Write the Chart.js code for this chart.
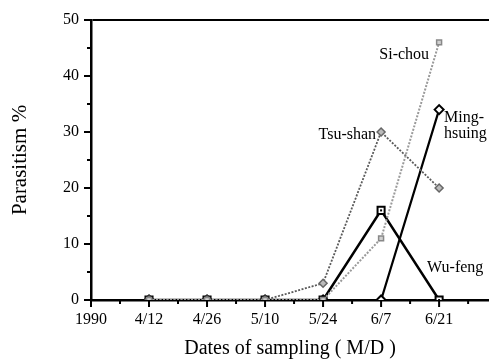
<!DOCTYPE html>
<html>
<head>
<meta charset="utf-8">
<script src="https://cdn.jsdelivr.net/npm/chart.js@4"></script>
<style>
  html, body { margin: 0; padding: 0; background: #fff; }
  #wrap { width: 489px; height: 362px; }
</style>
</head>
<body>
<div id="wrap"><canvas id="chart"></canvas></div>
<script>
  // sampling dates (index 0 is the year label at the origin)
  let dates = ["1990", "4/12", "4/26", "5/10", "5/24", "6/7", "6/21"];
  let tsuShan = [null, 0, 0, 0, 3, 30, 20];
  let siChou = [null, 0, 0, 0, 0, 11, 46];
  let wuFeng = [null, 0, 0, 0, 0, 16, 0];
  let mingHsuing = [null, 0, 0, 0, 0, 0, 34];
  let yTicks = [0, 10, 20, 30, 40, 50];

  function toPoints(values) {
    let pts = [];
    values.forEach((v, i) => {
      if (v !== null) pts.push({ x: i, y: v });
    });
    return pts;
  }

  let serif = "'Liberation Serif', 'DejaVu Serif', serif";

  // hand drawn tick marks, major longer than minor
  let tickMarks = {
    id: "tickMarks",
    afterDraw(chart) {
      let ctx = chart.ctx;
      let xs = chart.scales.x;
      let ys = chart.scales.y;
      let area = chart.chartArea;
      ctx.save();
      ctx.strokeStyle = "#000";
      ctx.lineWidth = 2;
      for (let v = 0; v <= 6.5; v += 0.5) {
        let px = xs.getPixelForValue(v);
        let len = Number.isInteger(v) ? 7 : 4;
        ctx.beginPath();
        ctx.moveTo(px, area.bottom);
        ctx.lineTo(px, area.bottom + len);
        ctx.stroke();
      }
      for (let v = 0; v <= 50; v += 5) {
        let py = ys.getPixelForValue(v);
        let len = v % 10 === 0 ? 7 : 4;
        ctx.beginPath();
        ctx.moveTo(area.left, py);
        ctx.lineTo(area.left - len, py);
        ctx.stroke();
      }
      ctx.restore();
    }
  };

  // series names placed next to their last points, plus the dot in the Wu-feng squares
  let seriesNames = {
    id: "seriesNames",
    afterDatasetsDraw(chart) {
      let ctx = chart.ctx;
      let xs = chart.scales.x;
      let ys = chart.scales.y;
      ctx.save();
      ctx.fillStyle = "#000";
      [5, 6].forEach(i => {
        ctx.fillRect(xs.getPixelForValue(i) - 1, ys.getPixelForValue(wuFeng[i]) - 1, 2, 2);
      });
      ctx.font = "16px " + serif;
      ctx.textBaseline = "middle";

      ctx.textAlign = "right";
      ctx.fillText("Si-chou", xs.getPixelForValue(6) - 10, ys.getPixelForValue(siChou[6]) + 12);
      ctx.fillText("Tsu-shan", xs.getPixelForValue(5) - 5, ys.getPixelForValue(tsuShan[5]) + 3);

      ctx.textAlign = "left";
      ctx.fillText("Ming-", xs.getPixelForValue(6) + 5, ys.getPixelForValue(mingHsuing[6]) + 8);
      ctx.fillText("hsuing", xs.getPixelForValue(6) + 5, ys.getPixelForValue(mingHsuing[6]) + 24);
      ctx.fillText("Wu-feng", xs.getPixelForValue(6) - 12, ys.getPixelForValue(wuFeng[6]) - 32);
      ctx.restore();
    }
  };

  new Chart(document.getElementById("chart"), {
    type: "line",
    data: {
      datasets: [
        {
          label: "Si-chou",
          data: toPoints(siChou),
          borderColor: "#9a9a9a",
          borderWidth: 2,
          borderDash: [2, 1.5],
          pointStyle: "rect",
          pointRadius: 3.5,
          pointBorderColor: "#888",
          pointBackgroundColor: "#d0d0d0",
          pointBorderWidth: 1.5,
        },
        {
          label: "Tsu-shan",
          data: toPoints(tsuShan),
          borderColor: "#5a5a5a",
          borderWidth: 1.8,
          borderDash: [2, 1.5],
          pointStyle: "rectRot",
          pointRadius: 4,
          pointBorderColor: "#666",
          pointBackgroundColor: "#bbb",
          pointBorderWidth: 1.5,
        },
        {
          label: "Wu-feng",
          data: toPoints(wuFeng),
          borderColor: "#000",
          borderWidth: 2.5,
          pointStyle: "rect",
          pointRadius: 5,
          pointBorderColor: "#000",
          pointBackgroundColor: "#fff",
          pointBorderWidth: 2,
        },
        {
          label: "Ming-hsuing",
          data: toPoints(mingHsuing),
          borderColor: "#000",
          borderWidth: 2.2,
          pointStyle: "rectRot",
          pointRadius: 4.5,
          pointBorderColor: "#000",
          pointBackgroundColor: "#fff",
          pointBorderWidth: 2,
        },
      ],
    },
    options: {
      responsive: true,
      maintainAspectRatio: false,
      animation: false,
      events: [],
      layout: { autoPadding: false, padding: { top: 20, right: 0, left: 0, bottom: 0 } },
      plugins: {
        legend: { display: false },
        tooltip: { enabled: false },
      },
      scales: {
        x: {
          type: "linear",
          min: 0,
          max: 6.86,
          afterBuildTicks: scale => {
            scale.ticks = dates.map((d, i) => ({ value: i }));
          },
          afterFit: scale => {
            scale.height = 62;
            scale.paddingLeft = 0;
            scale.paddingRight = 0;
          },
          border: { color: "#000", width: 2.5 },
          grid: { display: false, drawTicks: false },
          ticks: {
            color: "#000",
            padding: 10,
            maxRotation: 0,
            autoSkip: false,
            font: { family: serif, size: 16 },
            callback: v => dates[v],
          },
          title: {
            display: true,
            text: "Dates of sampling ( M/D )",
            color: "#000",
            font: { family: serif, size: 20 },
            padding: { top: 0, bottom: 1 },
          },
        },
        y: {
          min: 0,
          max: 50,
          afterBuildTicks: scale => {
            scale.ticks = yTicks.map(v => ({ value: v }));
          },
          afterFit: scale => {
            scale.width = 91;
            scale.paddingTop = 0;
            scale.paddingBottom = 0;
          },
          border: { color: "#000", width: 2.5 },
          grid: {
            drawTicks: false,
            lineWidth: 2,
            color: ctx => (ctx.tick && ctx.tick.value === 50 ? "#000" : "rgba(0,0,0,0)"),
          },
          ticks: {
            color: "#000",
            padding: 12,
            font: { family: serif, size: 16 },
          },
          title: {
            display: true,
            text: "Parasitism %",
            color: "#000",
            font: { family: serif, size: 21 },
            padding: { top: 8, bottom: 0 },
          },
        },
      },
    },
    plugins: [tickMarks, seriesNames],
  });
</script>
</body>
</html>
